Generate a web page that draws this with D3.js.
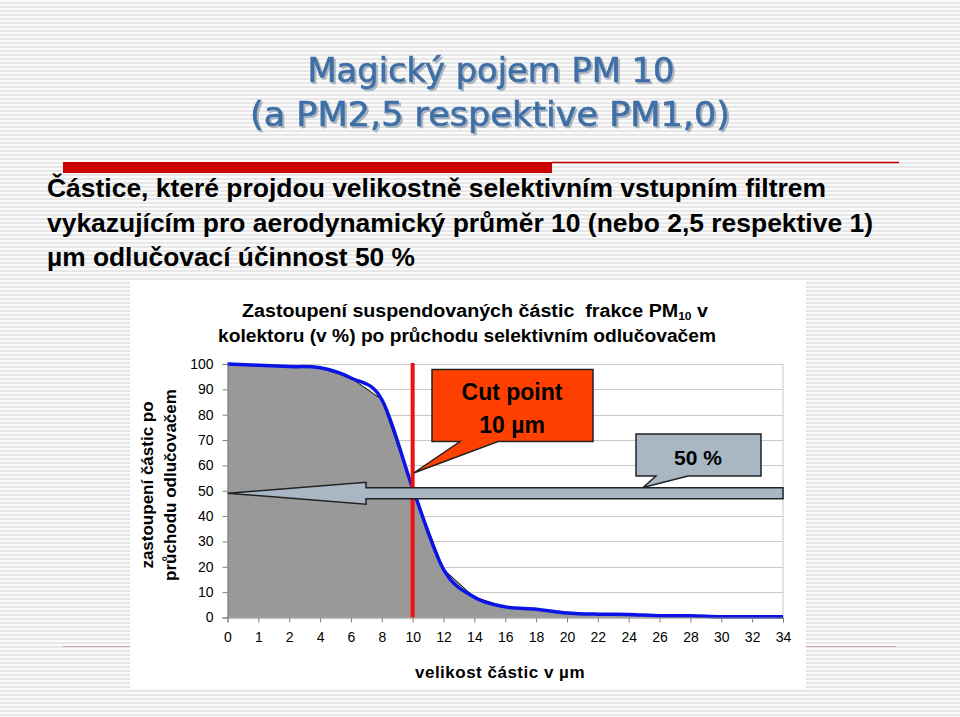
<!DOCTYPE html>
<html><head><meta charset="utf-8">
<script src="https://cdn.jsdelivr.net/npm/d3@7"></script>
<style>body{margin:0;padding:0;overflow:hidden}svg{display:block}text{white-space:pre}</style>
</head><body>
<script>
// ---- data ----
const categories = ["0","1","2","4","6","8","10","12","14","16","18","20","22","24","26","28","30","32","34"];
const values = [100, 99.5, 99, 98.5, 94.5, 86, 51, 19, 8, 4.2, 3.3, 1.8, 1.3, 1.2, 0.7, 0.7, 0.3, 0.3, 0.3];
const yTicks = [0,10,20,30,40,50,60,70,80,90,100];
const cutPoint = "10";
const halfLevel = 50;
const titleLines = ["Magický pojem PM 10", "(a PM2,5 respektive PM1,0)"];
const bodyLines = ["Částice, které projdou velikostně selektivním vstupním filtrem",
  "vykazujícím pro aerodynamický průměr 10 (nebo 2,5 respektive 1)",
  "µm odlučovací účinnost 50 %"];
const yTitleLines = ["zastoupení částic po", "průchodu odlučovačem"];
const xTitle = "velikost částic v µm";

const W = 960, H = 717;
const svg = d3.select("body").append("svg").attr("width", W).attr("height", H);
const defs = svg.append("defs");
const pat = defs.append("pattern").attr("id","stripes").attr("width",8).attr("height",4).attr("patternUnits","userSpaceOnUse");
pat.append("rect").attr("width",8).attr("height",4).attr("fill","#fbfbfb");
pat.append("rect").attr("y",2).attr("width",8).attr("height",2).attr("fill","#e7e7e7");
svg.append("rect").attr("width",W).attr("height",H).attr("fill","url(#stripes)");
const sh = defs.append("filter").attr("id","shadow").attr("x","-5%").attr("y","-20%").attr("width","110%").attr("height","150%");
sh.append("feDropShadow").attr("dx",2).attr("dy",2).attr("stdDeviation",0.6).attr("flood-color","#9aa6b4").attr("flood-opacity",0.8);

// title
const tg = svg.append("g").attr("filter","url(#shadow)");
const titleSpec = [{y:82, len:367, cx:491}, {y:126, len:480, cx:490}];
titleLines.forEach((t,i)=>{
  const s = titleSpec[i];
  tg.append("text").attr("x", s.cx).attr("y", s.y).attr("text-anchor","middle")
    .attr("font-family","'DejaVu Sans', sans-serif").attr("font-size",33)
    .attr("textLength", s.len).attr("lengthAdjust","spacingAndGlyphs")
    .attr("fill","#3d6fa6").attr("stroke","#3d6fa6").attr("stroke-width",0.6).text(t);
});

// red bars
svg.append("rect").attr("x",63).attr("y",162).attr("width",489).attr("height",11).attr("fill","#cc0000");
svg.append("line").attr("x1",552).attr("x2",899).attr("y1",162.5).attr("y2",162.5).attr("stroke","#c00000").attr("stroke-width",1.5);
svg.append("line").attr("x1",63).attr("x2",896).attr("y1",646.5).attr("y2",646.5).attr("stroke","#d3a5a5").attr("stroke-width",1);

// body text
const bodySpec = [{y:197, len:779},{y:232, len:826},{y:266, len:368}];
bodyLines.forEach((t,i)=>{
  svg.append("text").attr("x",47).attr("y",bodySpec[i].y)
    .attr("font-family","'Liberation Sans Narrow','Liberation Sans',Arial,sans-serif")
    .attr("font-weight","bold").attr("font-size",26)
    .attr("textLength", bodySpec[i].len).attr("lengthAdjust","spacingAndGlyphs")
    .attr("fill","#000").text(t);
});

// white panel
svg.append("rect").attr("x",130).attr("y",280).attr("width",676).attr("height",409).attr("fill","#ffffff");

// chart
const plot = {l:227.5, r:783, t:364, b:617.5};
const x = d3.scalePoint().domain(categories).range([plot.l, plot.r]);
const y = d3.scaleLinear().domain([0,100]).range([plot.b, plot.t]);
const cg = svg.append("g");
cg.selectAll("line.grid").data(yTicks.filter(d=>d>0)).join("line")
  .attr("x1",plot.l).attr("x2",plot.r).attr("y1",d=>Math.round(y(d))+0.5).attr("y2",d=>Math.round(y(d))+0.5)
  .attr("stroke","#c8c8c8").attr("stroke-width",1);
cg.append("line").attr("x1",plot.r).attr("x2",plot.r).attr("y1",plot.t).attr("y2",plot.b).attr("stroke","#c8c8c8");

const pts = categories.map((c,i)=>({c, v: values[i]}));
cg.append("path").datum(pts)
  .attr("d", d3.area().x(d=>x(d.c)).y0(y(0)).y1(d=>y(d.v)))
  .attr("fill","#999999");
cg.append("path").datum(pts)
  .attr("d", d3.line().x(d=>x(d.c)).y(d=>y(d.v)))
  .attr("fill","none").attr("stroke","#000").attr("stroke-width",1);
cg.append("path").datum(pts)
  .attr("d", d3.line().x(d=>x(d.c)).y(d=>y(d.v)).curve(d3.curveCatmullRom.alpha(0)))
  .attr("fill","none").attr("stroke","#0a14e6").attr("stroke-width",3.5).attr("stroke-linejoin","round");
cg.append("line").attr("x1",x(cutPoint)).attr("x2",x(cutPoint)).attr("y1",y(100)-1).attr("y2",y(0))
  .attr("stroke","#ee1111").attr("stroke-width",4);

const yAxis = d3.axisLeft(y).tickValues(yTicks).tickSize(5).tickPadding(9);
const gy = cg.append("g").attr("transform",`translate(${plot.l},0)`).call(yAxis);
const xAxis = d3.axisBottom(x).tickSize(5).tickPadding(10);
const gx = cg.append("g").attr("transform",`translate(0,${plot.b})`).call(xAxis);
[gy,gx].forEach(g=>{
  g.select(".domain").attr("stroke","#808080");
  g.selectAll(".tick line").attr("stroke","#808080");
  g.selectAll(".tick text").attr("font-family","'Liberation Sans',Arial,sans-serif").attr("font-size",14).attr("fill","#000");
});

// chart title
const ct = svg.append("g").attr("font-family","'Liberation Sans',Arial,sans-serif").attr("font-weight","bold").attr("font-size",18).attr("fill","#000");
const t1 = ct.append("text").attr("x",242).attr("y",317).attr("textLength",466).attr("lengthAdjust","spacingAndGlyphs");
t1.append("tspan").text("Zastoupení suspendovaných částic  frakce PM");
t1.append("tspan").attr("font-size",11).attr("dy",3).text("10");
t1.append("tspan").attr("dy",-3).text(" v");
ct.append("text").attr("x",467).attr("y",342).attr("text-anchor","middle")
  .attr("textLength",498).attr("lengthAdjust","spacingAndGlyphs")
  .text("kolektoru (v %) po průchodu selektivním odlučovačem");

// y title
yTitleLines.forEach((t,i)=>{
  svg.append("text").attr("transform",`translate(${153+i*23},${485}) rotate(-90)`)
    .attr("text-anchor","middle").attr("font-family","'Liberation Sans',Arial,sans-serif")
    .attr("font-weight","bold").attr("font-size",17).attr("fill","#000").text(t);
});
// x title
svg.append("text").attr("x",500).attr("y",678).attr("text-anchor","middle")
  .attr("font-family","'Liberation Sans',Arial,sans-serif").attr("font-weight","bold").attr("font-size",17)
  .attr("letter-spacing",0.5).text(xTitle);

// big arrow at 50 %
const ay = y(halfLevel)+2.5;
const tipX = plot.l, headX = 366, endX = plot.r;
svg.append("path")
  .attr("d", `M${tipX},${ay} L${headX},${ay-11} L${headX},${ay-5.5} L${endX},${ay-5.5} L${endX},${ay+5.5} L${headX},${ay+5.5} L${headX},${ay+11} Z`)
  .attr("fill","#a9b6c4").attr("stroke","#222").attr("stroke-width",1.5);

// 50% callout
svg.append("path")
  .attr("d", `M636,434 L761,434 L761,476 L688,476 L643,487.5 L656,476 L636,476 Z`)
  .attr("fill","#a9b6c4").attr("stroke","#222").attr("stroke-width",1.5);
svg.append("text").attr("x",698).attr("y",465).attr("text-anchor","middle")
  .attr("font-family","'Liberation Sans',Arial,sans-serif").attr("font-weight","bold").attr("font-size",21).text("50 %");

// cut point callout
const cx = x(cutPoint);
svg.append("path")
  .attr("d", `M432,369.5 L593,369.5 L593,441.5 L498,441.5 L${cx+1},473 L460,441.5 L432,441.5 Z`)
  .attr("fill","#ff4000").attr("stroke","#222").attr("stroke-width",1.5);
svg.append("text").attr("x",512).attr("y",400).attr("text-anchor","middle")
  .attr("font-family","'Liberation Sans',Arial,sans-serif").attr("font-weight","bold").attr("font-size",23).text("Cut point");
svg.append("text").attr("x",512).attr("y",433).attr("text-anchor","middle")
  .attr("font-family","'Liberation Sans',Arial,sans-serif").attr("font-weight","bold").attr("font-size",23).text("10 µm");
</script>
</body></html>
